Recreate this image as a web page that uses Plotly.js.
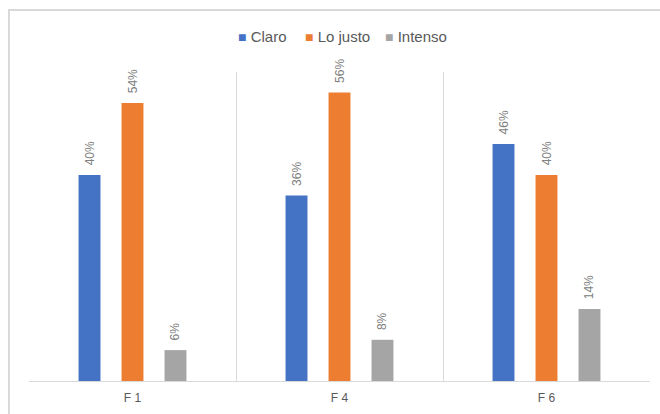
<!DOCTYPE html>
<html>
<head>
<meta charset="utf-8">
<script src="https://cdn.plot.ly/plotly-3.0.1.min.js"></script>
<style>
  html, body { margin: 0; padding: 0; background: #ffffff; }
  #chart { width: 660px; height: 414px; }
</style>
</head>
<body>
<div id="chart"></div>
<script>
// Categories and series shares (fractions of 1)
const categories = ["F 1", "F 4", "F 6"];
const claro = [0.40, 0.36, 0.46];
const loJusto = [0.54, 0.56, 0.40];
const intenso = [0.06, 0.08, 0.14];

const seriesNames = ["Claro", "Lo justo", "Intenso"];
const seriesColors = ["#4472C4", "#ED7D31", "#A5A5A5"];
const seriesValues = [claro, loJusto, intenso];

const baseFont = "Liberation Sans, Arial, sans-serif";
const labelFont = { family: baseFont, size: 12, color: "#808080" };

const traces = seriesValues.map((vals, i) => ({
  type: "bar",
  name: seriesNames[i],
  x: categories,
  y: vals,
  marker: { color: seriesColors[i] },
  // leading non-breaking spaces lift the rotated label off the bar top
  texttemplate: "\u00a0\u00a0%{y:.0%}",
  textposition: "outside",
  textangle: -90,
  constraintext: "none",
  textfont: labelFont,
  cliponaxis: false,
  hoverinfo: "skip",
  showlegend: false
}));

// Legend row drawn as annotations: coloured square + series name
const legendX = [0.333, 0.441, 0.570];
const legendItems = seriesNames.map((name, i) => ({
  xref: "paper", yref: "paper",
  x: legendX[i], y: 1.116,
  xanchor: "left", yanchor: "middle",
  showarrow: false,
  text: "<span style='color:" + seriesColors[i] + ";font-size:14px'>■</span> " + name,
  font: { family: baseFont, size: 15, color: "#595959" }
}));

const layout = {
  width: 660,
  height: 414,
  margin: { l: 29, r: 10, t: 72, b: 33, pad: 0 },
  paper_bgcolor: "#ffffff",
  plot_bgcolor: "#ffffff",
  barmode: "group",
  bargap: 0.377,
  bargroupgap: 0.49,
  font: { family: baseFont, color: "#595959" },
  showlegend: false,
  annotations: legendItems,
  xaxis: {
    type: "category",
    tickson: "boundaries",
    showgrid: true,
    gridcolor: "#d9d9d9",
    gridwidth: 1,
    showline: true,
    linecolor: "#d9d9d9",
    linewidth: 1,
    ticks: "",
    ticklabelstandoff: 6,
    tickfont: { family: baseFont, size: 12, color: "#595959" },
    fixedrange: true
  },
  yaxis: {
    range: [0, 0.6],
    visible: false,
    showgrid: false,
    zeroline: false,
    fixedrange: true
  },
  shapes: [{
    type: "rect",
    xref: "paper", yref: "paper",
    x0: -0.0322, x1: 1.2,
    y0: -0.3, y1: 1.2006,
    line: { color: "#d9d9d9", width: 2 },
    fillcolor: "rgba(0,0,0,0)",
    layer: "below"
  }]
};

Plotly.newPlot("chart", traces, layout, { staticPlot: true, displayModeBar: false });
</script>
</body>
</html>
